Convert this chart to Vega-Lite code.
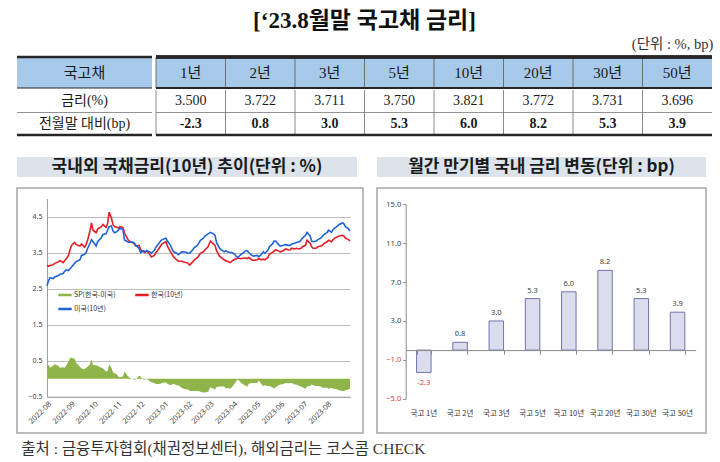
{
  "$schema": "https://vega.github.io/schema/vega-lite/v6.json",
  "background": "white",
  "padding": {"left": 15, "top": 10, "right": 0, "bottom": 0},
  "title": {"text": "[‘23.8월말  국고채  금리]", "fontSize": 23, "font": "Liberation Serif, Noto Sans CJK KR", "fontWeight": "bold", "anchor": "middle", "offset": 4, "color": "#111111"},
  "config": {
    "view": {"stroke": null},
    "font": "Noto Sans CJK KR",
    "concat": {"spacing": 0},
    "axis": {"labelOverlap": false}
  },
  "resolve": {"scale": {"color": "independent"}},
  "datasets": {
    "rates": [
      {"date": "2022-08-01", "kr": 3.15, "us": 2.58, "sp": 0.42},
      {"date": "2022-08-03", "kr": 3.12, "us": 2.72, "sp": 0.38},
      {"date": "2022-08-05", "kr": 3.14, "us": 2.80, "sp": 0.30},
      {"date": "2022-08-09", "kr": 3.16, "us": 2.78, "sp": 0.36},
      {"date": "2022-08-11", "kr": 3.20, "us": 2.82, "sp": 0.40},
      {"date": "2022-08-16", "kr": 3.24, "us": 2.86, "sp": 0.35},
      {"date": "2022-08-18", "kr": 3.28, "us": 2.90, "sp": 0.30},
      {"date": "2022-08-22", "kr": 3.22, "us": 2.92, "sp": 0.32},
      {"date": "2022-08-24", "kr": 3.28, "us": 2.98, "sp": 0.30},
      {"date": "2022-08-26", "kr": 3.32, "us": 3.02, "sp": 0.36},
      {"date": "2022-08-29", "kr": 3.42, "us": 3.00, "sp": 0.48},
      {"date": "2022-08-31", "kr": 3.58, "us": 3.05, "sp": 0.57},
      {"date": "2022-09-02", "kr": 3.70, "us": 3.10, "sp": 0.58},
      {"date": "2022-09-06", "kr": 3.78, "us": 3.20, "sp": 0.55},
      {"date": "2022-09-08", "kr": 3.72, "us": 3.25, "sp": 0.44},
      {"date": "2022-09-13", "kr": 3.68, "us": 3.30, "sp": 0.33},
      {"date": "2022-09-15", "kr": 3.74, "us": 3.42, "sp": 0.28},
      {"date": "2022-09-19", "kr": 3.65, "us": 3.45, "sp": 0.26},
      {"date": "2022-09-21", "kr": 3.72, "us": 3.50, "sp": 0.30},
      {"date": "2022-09-23", "kr": 3.85, "us": 3.62, "sp": 0.33},
      {"date": "2022-09-26", "kr": 4.10, "us": 3.75, "sp": 0.40},
      {"date": "2022-09-28", "kr": 4.32, "us": 3.86, "sp": 0.54},
      {"date": "2022-09-30", "kr": 4.12, "us": 3.80, "sp": 0.38},
      {"date": "2022-10-04", "kr": 4.05, "us": 3.68, "sp": 0.37},
      {"date": "2022-10-06", "kr": 4.15, "us": 3.80, "sp": 0.35},
      {"date": "2022-10-11", "kr": 4.22, "us": 3.92, "sp": 0.30},
      {"date": "2022-10-13", "kr": 4.28, "us": 4.00, "sp": 0.28},
      {"date": "2022-10-17", "kr": 4.20, "us": 4.02, "sp": 0.20},
      {"date": "2022-10-19", "kr": 4.30, "us": 4.12, "sp": 0.21},
      {"date": "2022-10-21", "kr": 4.62, "us": 4.22, "sp": 0.40},
      {"date": "2022-10-24", "kr": 4.45, "us": 4.24, "sp": 0.30},
      {"date": "2022-10-26", "kr": 4.28, "us": 4.10, "sp": 0.18},
      {"date": "2022-10-28", "kr": 4.22, "us": 4.05, "sp": 0.15},
      {"date": "2022-10-31", "kr": 4.20, "us": 4.08, "sp": 0.12},
      {"date": "2022-11-02", "kr": 4.18, "us": 4.12, "sp": 0.06},
      {"date": "2022-11-04", "kr": 4.22, "us": 4.18, "sp": 0.04},
      {"date": "2022-11-08", "kr": 4.20, "us": 4.14, "sp": 0.06},
      {"date": "2022-11-10", "kr": 4.05, "us": 3.85, "sp": 0.20},
      {"date": "2022-11-14", "kr": 3.88, "us": 3.80, "sp": 0.08},
      {"date": "2022-11-16", "kr": 3.82, "us": 3.78, "sp": 0.04},
      {"date": "2022-11-18", "kr": 3.80, "us": 3.80, "sp": 0.02},
      {"date": "2022-11-22", "kr": 3.76, "us": 3.78, "sp": -0.02},
      {"date": "2022-11-25", "kr": 3.68, "us": 3.70, "sp": -0.02},
      {"date": "2022-11-29", "kr": 3.70, "us": 3.62, "sp": 0.08},
      {"date": "2022-12-01", "kr": 3.58, "us": 3.50, "sp": 0.06},
      {"date": "2022-12-05", "kr": 3.52, "us": 3.55, "sp": -0.03},
      {"date": "2022-12-07", "kr": 3.50, "us": 3.52, "sp": -0.02},
      {"date": "2022-12-09", "kr": 3.55, "us": 3.55, "sp": 0.00},
      {"date": "2022-12-13", "kr": 3.45, "us": 3.52, "sp": -0.07},
      {"date": "2022-12-15", "kr": 3.38, "us": 3.48, "sp": -0.10},
      {"date": "2022-12-19", "kr": 3.42, "us": 3.56, "sp": -0.12},
      {"date": "2022-12-21", "kr": 3.50, "us": 3.65, "sp": -0.15},
      {"date": "2022-12-23", "kr": 3.55, "us": 3.70, "sp": -0.15},
      {"date": "2022-12-27", "kr": 3.68, "us": 3.82, "sp": -0.14},
      {"date": "2022-12-29", "kr": 3.74, "us": 3.86, "sp": -0.12},
      {"date": "2023-01-03", "kr": 3.80, "us": 3.90, "sp": -0.10},
      {"date": "2023-01-05", "kr": 3.68, "us": 3.82, "sp": -0.14},
      {"date": "2023-01-09", "kr": 3.52, "us": 3.70, "sp": -0.18},
      {"date": "2023-01-11", "kr": 3.45, "us": 3.60, "sp": -0.16},
      {"date": "2023-01-13", "kr": 3.38, "us": 3.52, "sp": -0.14},
      {"date": "2023-01-17", "kr": 3.30, "us": 3.48, "sp": -0.18},
      {"date": "2023-01-19", "kr": 3.26, "us": 3.44, "sp": -0.18},
      {"date": "2023-01-24", "kr": 3.26, "us": 3.52, "sp": -0.26},
      {"date": "2023-01-26", "kr": 3.24, "us": 3.52, "sp": -0.28},
      {"date": "2023-01-30", "kr": 3.22, "us": 3.50, "sp": -0.30},
      {"date": "2023-02-01", "kr": 3.20, "us": 3.48, "sp": -0.30},
      {"date": "2023-02-03", "kr": 3.15, "us": 3.48, "sp": -0.34},
      {"date": "2023-02-07", "kr": 3.24, "us": 3.58, "sp": -0.34},
      {"date": "2023-02-09", "kr": 3.30, "us": 3.64, "sp": -0.34},
      {"date": "2023-02-13", "kr": 3.36, "us": 3.70, "sp": -0.34},
      {"date": "2023-02-15", "kr": 3.42, "us": 3.76, "sp": -0.34},
      {"date": "2023-02-17", "kr": 3.48, "us": 3.84, "sp": -0.36},
      {"date": "2023-02-21", "kr": 3.52, "us": 3.90, "sp": -0.38},
      {"date": "2023-02-23", "kr": 3.58, "us": 3.96, "sp": -0.38},
      {"date": "2023-02-27", "kr": 3.66, "us": 4.02, "sp": -0.36},
      {"date": "2023-03-02", "kr": 3.82, "us": 4.06, "sp": -0.24},
      {"date": "2023-03-06", "kr": 3.74, "us": 4.02, "sp": -0.28},
      {"date": "2023-03-08", "kr": 3.70, "us": 3.98, "sp": -0.30},
      {"date": "2023-03-10", "kr": 3.55, "us": 3.78, "sp": -0.23},
      {"date": "2023-03-14", "kr": 3.40, "us": 3.62, "sp": -0.22},
      {"date": "2023-03-16", "kr": 3.36, "us": 3.58, "sp": -0.22},
      {"date": "2023-03-20", "kr": 3.30, "us": 3.52, "sp": -0.22},
      {"date": "2023-03-22", "kr": 3.28, "us": 3.55, "sp": -0.27},
      {"date": "2023-03-24", "kr": 3.26, "us": 3.52, "sp": -0.26},
      {"date": "2023-03-28", "kr": 3.22, "us": 3.50, "sp": -0.28},
      {"date": "2023-03-30", "kr": 3.26, "us": 3.50, "sp": -0.24},
      {"date": "2023-04-03", "kr": 3.32, "us": 3.45, "sp": -0.13},
      {"date": "2023-04-05", "kr": 3.32, "us": 3.38, "sp": -0.06},
      {"date": "2023-04-07", "kr": 3.35, "us": 3.37, "sp": -0.02},
      {"date": "2023-04-11", "kr": 3.33, "us": 3.45, "sp": -0.12},
      {"date": "2023-04-13", "kr": 3.34, "us": 3.48, "sp": -0.14},
      {"date": "2023-04-17", "kr": 3.35, "us": 3.55, "sp": -0.20},
      {"date": "2023-04-19", "kr": 3.33, "us": 3.55, "sp": -0.22},
      {"date": "2023-04-21", "kr": 3.36, "us": 3.50, "sp": -0.14},
      {"date": "2023-04-25", "kr": 3.30, "us": 3.42, "sp": -0.12},
      {"date": "2023-04-27", "kr": 3.28, "us": 3.40, "sp": -0.12},
      {"date": "2023-05-02", "kr": 3.30, "us": 3.42, "sp": -0.12},
      {"date": "2023-05-04", "kr": 3.33, "us": 3.38, "sp": -0.05},
      {"date": "2023-05-08", "kr": 3.30, "us": 3.46, "sp": -0.16},
      {"date": "2023-05-10", "kr": 3.32, "us": 3.52, "sp": -0.20},
      {"date": "2023-05-12", "kr": 3.30, "us": 3.48, "sp": -0.18},
      {"date": "2023-05-16", "kr": 3.36, "us": 3.56, "sp": -0.20},
      {"date": "2023-05-18", "kr": 3.46, "us": 3.66, "sp": -0.20},
      {"date": "2023-05-22", "kr": 3.50, "us": 3.74, "sp": -0.24},
      {"date": "2023-05-24", "kr": 3.54, "us": 3.82, "sp": -0.28},
      {"date": "2023-05-26", "kr": 3.58, "us": 3.82, "sp": -0.24},
      {"date": "2023-05-30", "kr": 3.54, "us": 3.72, "sp": -0.18},
      {"date": "2023-06-01", "kr": 3.52, "us": 3.68, "sp": -0.16},
      {"date": "2023-06-05", "kr": 3.55, "us": 3.70, "sp": -0.15},
      {"date": "2023-06-08", "kr": 3.60, "us": 3.72, "sp": -0.12},
      {"date": "2023-06-12", "kr": 3.57, "us": 3.70, "sp": -0.13},
      {"date": "2023-06-14", "kr": 3.58, "us": 3.70, "sp": -0.12},
      {"date": "2023-06-16", "kr": 3.62, "us": 3.74, "sp": -0.12},
      {"date": "2023-06-20", "kr": 3.60, "us": 3.76, "sp": -0.16},
      {"date": "2023-06-22", "kr": 3.62, "us": 3.78, "sp": -0.16},
      {"date": "2023-06-26", "kr": 3.60, "us": 3.80, "sp": -0.20},
      {"date": "2023-06-28", "kr": 3.62, "us": 3.84, "sp": -0.22},
      {"date": "2023-06-30", "kr": 3.66, "us": 3.90, "sp": -0.24},
      {"date": "2023-07-04", "kr": 3.70, "us": 3.98, "sp": -0.28},
      {"date": "2023-07-06", "kr": 3.84, "us": 4.06, "sp": -0.22},
      {"date": "2023-07-10", "kr": 3.76, "us": 3.96, "sp": -0.20},
      {"date": "2023-07-12", "kr": 3.66, "us": 3.82, "sp": -0.16},
      {"date": "2023-07-14", "kr": 3.62, "us": 3.80, "sp": -0.18},
      {"date": "2023-07-18", "kr": 3.62, "us": 3.82, "sp": -0.20},
      {"date": "2023-07-20", "kr": 3.66, "us": 3.86, "sp": -0.20},
      {"date": "2023-07-24", "kr": 3.68, "us": 3.90, "sp": -0.22},
      {"date": "2023-07-26", "kr": 3.70, "us": 3.95, "sp": -0.25},
      {"date": "2023-07-28", "kr": 3.75, "us": 4.00, "sp": -0.25},
      {"date": "2023-08-01", "kr": 3.80, "us": 4.05, "sp": -0.25},
      {"date": "2023-08-03", "kr": 3.84, "us": 4.12, "sp": -0.28},
      {"date": "2023-08-07", "kr": 3.80, "us": 4.06, "sp": -0.26},
      {"date": "2023-08-09", "kr": 3.86, "us": 4.14, "sp": -0.28},
      {"date": "2023-08-11", "kr": 3.90, "us": 4.18, "sp": -0.28},
      {"date": "2023-08-15", "kr": 3.94, "us": 4.24, "sp": -0.30},
      {"date": "2023-08-17", "kr": 3.96, "us": 4.28, "sp": -0.32},
      {"date": "2023-08-21", "kr": 3.98, "us": 4.32, "sp": -0.34},
      {"date": "2023-08-23", "kr": 3.96, "us": 4.30, "sp": -0.34},
      {"date": "2023-08-25", "kr": 3.90, "us": 4.22, "sp": -0.32},
      {"date": "2023-08-29", "kr": 3.86, "us": 4.16, "sp": -0.30},
      {"date": "2023-08-31", "kr": 3.82, "us": 4.10, "sp": -0.28}
    ],
    "bars": [
      {"term": "국고 1년", "bp": -2.3},
      {"term": "국고 2년", "bp": 0.8},
      {"term": "국고 3년", "bp": 3.0},
      {"term": "국고 5년", "bp": 5.3},
      {"term": "국고 10년", "bp": 6.0},
      {"term": "국고 20년", "bp": 8.2},
      {"term": "국고 30년", "bp": 5.3},
      {"term": "국고 50년", "bp": 3.9}
    ],
    "cells": [
      {"row": "금리(%)", "col": "1년", "txt": "3.500"},
      {"row": "금리(%)", "col": "2년", "txt": "3.722"},
      {"row": "금리(%)", "col": "3년", "txt": "3.711"},
      {"row": "금리(%)", "col": "5년", "txt": "3.750"},
      {"row": "금리(%)", "col": "10년", "txt": "3.821"},
      {"row": "금리(%)", "col": "20년", "txt": "3.772"},
      {"row": "금리(%)", "col": "30년", "txt": "3.731"},
      {"row": "금리(%)", "col": "50년", "txt": "3.696"},
      {"row": "전월말 대비(bp)", "col": "1년", "txt": "-2.3"},
      {"row": "전월말 대비(bp)", "col": "2년", "txt": "0.8"},
      {"row": "전월말 대비(bp)", "col": "3년", "txt": "3.0"},
      {"row": "전월말 대비(bp)", "col": "5년", "txt": "5.3"},
      {"row": "전월말 대비(bp)", "col": "10년", "txt": "6.0"},
      {"row": "전월말 대비(bp)", "col": "20년", "txt": "8.2"},
      {"row": "전월말 대비(bp)", "col": "30년", "txt": "5.3"},
      {"row": "전월말 대비(bp)", "col": "50년", "txt": "3.9"}
    ]
  },
  "spacing": 20,
  "vconcat": [
    {
      "title": {"text": "(단위 : %, bp)", "anchor": "end", "fontSize": 14.5, "font": "Liberation Serif, Noto Sans CJK KR", "fontWeight": "normal", "color": "#333333", "offset": 3},
      "spacing": 0,
      "vconcat": [
        {
          "spacing": 0,
          "hconcat": [
            {
              "width": 135, "height": 31,
              "view": {"fill": "#a7c9ea", "stroke": null},
              "data": {"values": [{"h": "국고채"}]},
              "layer": [
                {"mark": {"type": "text", "font": "Liberation Serif, Noto Sans CJK KR", "fontSize": 15, "color": "#1a1a1a"},
                 "encoding": {"y": {"field": "h", "type": "nominal", "axis": null, "scale": {"paddingInner": 0, "paddingOuter": 0}}, "text": {"field": "h"}}},
                {"mark": {"type": "rule", "strokeWidth": 2.5, "color": "#262626"},
                 "encoding": {"y": {"field": "h", "type": "nominal", "bandPosition": 0, "axis": null}}},
                {"mark": {"type": "rule", "strokeWidth": 1, "color": "#262626"},
                 "encoding": {"y": {"field": "h", "type": "nominal", "bandPosition": 1, "axis": null}}}
              ]
            },
            {
              "width": 556, "height": 31,
              "view": {"fill": "#a7c9ea", "stroke": null},
              "data": {"values": [{"col": "1년", "h": "h"}, {"col": "2년", "h": "h"}, {"col": "3년", "h": "h"}, {"col": "5년", "h": "h"}, {"col": "10년", "h": "h"}, {"col": "20년", "h": "h"}, {"col": "30년", "h": "h"}, {"col": "50년", "h": "h"}]},
              "layer": [
                {"mark": {"type": "text", "font": "Liberation Serif, Noto Sans CJK KR", "fontSize": 15, "color": "#1a1a1a"},
                 "encoding": {"x": {"field": "col", "type": "nominal", "sort": null, "axis": null, "scale": {"paddingInner": 0, "paddingOuter": 0}}, "text": {"field": "col"}}},
                {"mark": {"type": "rule", "strokeWidth": 1, "color": "#6f6f6f"},
                 "encoding": {"x": {"field": "col", "type": "nominal", "sort": null, "bandPosition": 0, "axis": null}}},
                {"mark": {"type": "rule", "strokeWidth": 2.5, "color": "#262626"},
                 "encoding": {"y": {"field": "h", "type": "nominal", "bandPosition": 0, "axis": null, "scale": {"paddingInner": 0, "paddingOuter": 0}}}},
                {"mark": {"type": "rule", "strokeWidth": 1, "color": "#262626"},
                 "encoding": {"y": {"field": "h", "type": "nominal", "bandPosition": 1, "axis": null}}}
              ]
            }
          ]
        },
        {
          "spacing": 0,
          "hconcat": [
            {
              "width": 135, "height": 45,
              "data": {"values": [{"row": "금리(%)"}, {"row": "전월말 대비(bp)"}]},
              "layer": [
                {"mark": {"type": "text", "font": "Liberation Serif, Noto Sans CJK KR", "fontSize": 14, "color": "#1a1a1a"},
                 "encoding": {"y": {"field": "row", "type": "nominal", "sort": null, "axis": null, "scale": {"paddingInner": 0, "paddingOuter": 0}}, "text": {"field": "row"}}},
                {"transform": [{"filter": "datum.row === '전월말 대비(bp)'"}],
                 "mark": {"type": "rule", "strokeWidth": 0.8, "color": "#777777"},
                 "encoding": {"y": {"field": "row", "type": "nominal", "sort": null, "bandPosition": 0, "axis": null}}},
                {"transform": [{"filter": "datum.row === '전월말 대비(bp)'"}],
                 "mark": {"type": "rule", "strokeWidth": 2.5, "color": "#262626"},
                 "encoding": {"y": {"field": "row", "type": "nominal", "sort": null, "bandPosition": 1, "axis": null}}}
              ]
            },
            {
              "width": 556, "height": 45,
              "data": {"name": "cells"},
              "layer": [
                {"transform": [{"filter": "datum.row === '금리(%)'"}],
                 "mark": {"type": "text", "font": "Liberation Serif, Noto Sans CJK KR", "fontSize": 14, "color": "#1a1a1a"},
                 "encoding": {"x": {"field": "col", "type": "nominal", "sort": null, "axis": null, "scale": {"paddingInner": 0, "paddingOuter": 0}},
                              "y": {"field": "row", "type": "nominal", "sort": ["금리(%)", "전월말 대비(bp)"], "axis": null, "scale": {"domain": ["금리(%)", "전월말 대비(bp)"], "paddingInner": 0, "paddingOuter": 0}},
                              "text": {"field": "txt"}}},
                {"transform": [{"filter": "datum.row === '전월말 대비(bp)'"}],
                 "mark": {"type": "text", "font": "Liberation Serif, Noto Sans CJK KR", "fontSize": 14, "fontWeight": "bold", "color": "#1a1a1a"},
                 "encoding": {"x": {"field": "col", "type": "nominal", "sort": null, "axis": null},
                              "y": {"field": "row", "type": "nominal", "axis": null},
                              "text": {"field": "txt"}}},
                {"transform": [{"filter": "datum.row === '금리(%)'"}],
                 "mark": {"type": "rule", "strokeWidth": 1, "color": "#8a8a8a"},
                 "encoding": {"x": {"field": "col", "type": "nominal", "sort": null, "bandPosition": 0, "axis": null}}},
                {"transform": [{"filter": "datum.row === '전월말 대비(bp)' && datum.col === '1년'"}],
                 "mark": {"type": "rule", "strokeWidth": 0.8, "color": "#777777"},
                 "encoding": {"y": {"field": "row", "type": "nominal", "bandPosition": 0, "axis": null}}},
                {"transform": [{"filter": "datum.row === '전월말 대비(bp)' && datum.col === '1년'"}],
                 "mark": {"type": "rule", "strokeWidth": 2.5, "color": "#262626"},
                 "encoding": {"y": {"field": "row", "type": "nominal", "bandPosition": 1, "axis": null}}}
              ]
            }
          ]
        }
      ]
    },
    {
      "title": {"text": "출처 : 금융투자협회(채권정보센터), 해외금리는 코스콤 CHECK", "orient": "bottom", "anchor": "start", "fontSize": 15.5, "fontWeight": "normal", "font": "Liberation Serif, Noto Sans CJK KR", "color": "#333333", "offset": 8, "dx": 5},
      "spacing": 12,
      "resolve": {"scale": {"color": "independent"}},
      "hconcat": [
        {
          "spacing": 10,
          "resolve": {"scale": {"color": "independent"}},
          "vconcat": [
            {
              "width": 340, "height": 20,
              "view": {"fill": "#dce3eb", "stroke": null},
              "data": {"values": [{"t": "국내외 국채금리(10년) 추이(단위 : %)"}]},
              "mark": {"type": "text", "font": "Noto Sans CJK KR", "fontSize": 17, "fontWeight": "bold", "color": "#1a1a1a"},
              "encoding": {"text": {"field": "t"}}
            },
            {
              "width": 346, "height": 245,
              "view": {"stroke": "#a6a6a6", "strokeWidth": 1.5},
              "data": {"name": "rates"},
              "encoding": {
                "x": {"field": "date", "type": "temporal",
                      "scale": {"domain": ["2022-08-01", "2023-08-31"], "range": [30, 333], "nice": false},
                      "axis": {"format": "%Y-%m", "labelAngle": -45, "tickCount": {"interval": "month", "step": 1}, "labelFontSize": 7.5, "labelColor": "#404040", "labelFont": "Noto Sans", "grid": false, "ticks": false, "domain": true, "domainColor": "#a0a0a0", "domainWidth": 1, "title": null, "labelPadding": 3, "offset": -36.3, "labelOverlap": false, "labelBound": false, "labelFlush": false}}
              },
              "layer": [
                {"mark": {"type": "area", "opacity": 1},
                 "encoding": {
                   "y": {"field": "sp", "type": "quantitative",
                         "scale": {"domain": [-0.5, 5], "range": [208.7, 10.5], "nice": false, "zero": false},
                         "axis": {"values": [-0.5, 0, 0.5, 1, 1.5, 2, 2.5, 3, 3.5, 4, 4.5, 5], "format": ".1f", "labelFontSize": 7, "labelColor": "#404040", "labelFont": "Noto Sans", "labelOverlap": false, "grid": true, "gridColor": "#bdbdbd", "gridWidth": 1, "ticks": false, "domain": true, "domainColor": "#a0a0a0", "offset": -30, "labelPadding": 5, "title": null}},
                   "y2": {"datum": 0},
                   "color": {"datum": "SP(한국-미국)", "type": "nominal",
                             "scale": {"domain": ["SP(한국-미국)", "한국(10년)", "미국(10년)"], "range": ["#8fb449", "#e41e26", "#1f63d8"]},
                             "legend": {"orient": "none", "legendX": 40, "legendY": 99, "values": ["SP(한국-미국)", "미국(10년)", "한국(10년)"], "columns": 2, "symbolType": "stroke", "symbolSize": 180, "symbolStrokeWidth": 2.5, "labelFontSize": 7, "labelColor": "#333333", "title": null, "columnPadding": 14, "rowPadding": 1, "padding": 0, "labelOffset": 1}}
                 }},
                {"mark": {"type": "line", "strokeWidth": 1.6},
                 "encoding": {"y": {"field": "kr", "type": "quantitative"}, "color": {"datum": "한국(10년)", "type": "nominal"}}},
                {"mark": {"type": "line", "strokeWidth": 1.6},
                 "encoding": {"y": {"field": "us", "type": "quantitative"}, "color": {"datum": "미국(10년)", "type": "nominal"}}}
              ]
            }
          ]
        },
        {
          "spacing": 10,
          "vconcat": [
            {
              "width": 329, "height": 20,
              "view": {"fill": "#dce3eb", "stroke": null},
              "data": {"values": [{"t": "월간 만기별 국내 금리 변동(단위 : bp)"}]},
              "mark": {"type": "text", "font": "Noto Sans CJK KR", "fontSize": 17, "fontWeight": "bold", "color": "#1a1a1a"},
              "encoding": {"text": {"field": "t"}}
            },
            {
              "width": 329, "height": 245,
              "view": {"stroke": "#a6a6a6", "strokeWidth": 1.5},
              "data": {"name": "bars"},
              "resolve": {"axis": {"x": "independent"}},
              "layer": [
                {"mark": {"type": "bar", "fill": "#dcdcef", "stroke": "#6f75ab", "strokeWidth": 1},
                 "encoding": {
                   "x": {"field": "term", "type": "nominal", "sort": null,
                         "scale": {"range": [28.7, 318.7], "paddingInner": 0.6, "paddingOuter": 0.3},
                         "axis": {"orient": "bottom", "offset": -26, "domain": false, "ticks": false, "labelFontSize": 7.5, "labelColor": "#333333", "labelPadding": 2, "labelAngle": 0, "title": null}},
                   "y": {"field": "bp", "type": "quantitative",
                         "scale": {"domain": [-5, 15], "range": [210.7, 16.3], "nice": false, "zero": false},
                         "axis": {"values": [-5, -3, -1, 1, 3, 5, 7, 9, 11, 13, 15], "format": ".1f", "labelColor": {"condition": {"test": "datum.value < 0", "value": "#e03c3c"}, "value": "#404040"}, "labelFontSize": 7.5, "labelFont": "Noto Sans", "labelOverlap": false, "grid": false, "ticks": true, "tickSize": 3, "tickColor": "#8a8a8a", "domain": true, "domainColor": "#8a8a8a", "offset": -28.7, "labelPadding": 2, "title": null, "zindex": 1}}
                 }},
                {"transform": [{"filter": "datum.bp >= 0"}],
                 "mark": {"type": "text", "dy": -8, "fontSize": 7.5, "font": "Noto Sans", "color": "#404040"},
                 "encoding": {
                   "x": {"field": "term", "type": "nominal", "sort": null,
                         "axis": {"orient": "bottom", "offset": -82.9, "labels": false, "domain": true, "domainColor": "#8a8a8a", "ticks": true, "tickBand": "extent", "tickSize": 4, "tickColor": "#8a8a8a", "title": null, "grid": false, "zindex": 1}},
                   "y": {"field": "bp", "type": "quantitative"},
                   "text": {"field": "bp", "type": "quantitative", "format": ".1f"}
                 }},
                {"transform": [{"filter": "datum.bp < 0"}],
                 "mark": {"type": "text", "dy": 11, "fontSize": 7.5, "font": "Noto Sans", "color": "#e03c3c"},
                 "encoding": {
                   "x": {"field": "term", "type": "nominal", "sort": null, "axis": null},
                   "y": {"field": "bp", "type": "quantitative"},
                   "text": {"field": "bp", "type": "nominal"}
                 }}
              ]
            }
          ]
        }
      ]
    }
  ]
}
